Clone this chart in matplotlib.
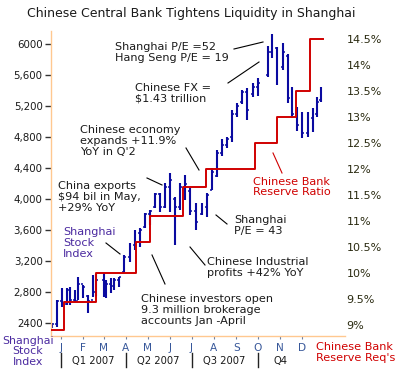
import matplotlib
matplotlib.use("Agg")
import matplotlib.pyplot as plt
import matplotlib.dates as mdates
from matplotlib.lines import Line2D
from matplotlib.transforms import blended_transform_factory
import pandas as pd

# ---------------- data ----------------
bar_dates = ['2007-01-03', '2007-01-09', '2007-01-16', '2007-01-23', '2007-01-28',
             '2007-02-03', '2007-02-08', '2007-02-14', '2007-02-21', '2007-02-28',
             '2007-03-05', '2007-03-15', '2007-03-19', '2007-03-25', '2007-03-30',
             '2007-04-05', '2007-04-12', '2007-04-20', '2007-04-27', '2007-05-04',
             '2007-05-11', '2007-05-18', '2007-05-25', '2007-06-01', '2007-06-08',
             '2007-06-15', '2007-06-22', '2007-06-29', '2007-07-06', '2007-07-13',
             '2007-07-21', '2007-07-29', '2007-08-05', '2007-08-12', '2007-08-19',
             '2007-08-26', '2007-09-02', '2007-09-09', '2007-09-16', '2007-09-23',
             '2007-09-30', '2007-10-08', '2007-10-15', '2007-10-29', '2007-11-03',
             '2007-11-10', '2007-11-19', '2007-11-26', '2007-12-02', '2007-12-09',
             '2007-12-16', '2007-12-23', '2007-12-30', '2008-01-05', '2008-01-10']
highs = [2401, 2698, 2852, 2852, 2865, 2827, 2994, 2891, 2762, 3020,
         3033, 3046, 2956, 2981, 2981, 2994, 3278, 3433, 3601, 3626,
         3820, 3859, 4078, 4078, 4207, 4336, 4026, 4207, 4310, 4142,
         3949, 3949, 4078, 4400, 4633, 4774, 4800, 5149, 5239, 5407,
         5432, 5497, 5561, 5974, 6129, 5961, 6013, 5871, 5445, 5187,
         5123, 5123, 5174, 5316, 5445]
lows = [2336, 2349, 2607, 2633, 2633, 2672, 2698, 2723, 2530, 2736,
        2749, 2736, 2723, 2788, 2827, 2865, 3059, 3188, 3343, 3381,
        3626, 3665, 3884, 3833, 3884, 3833, 3407, 3859, 3988, 3794,
        3601, 3794, 3768, 4117, 4284, 4555, 4658, 4736, 5058, 5226,
        5020, 5316, 5329, 5574, 5819, 5471, 5665, 5239, 5045, 4878,
        4787, 4800, 4865, 5058, 5252]
opens = [2350, 2390, 2680, 2640, 2820, 2700, 2690, 2900, 2750, 2700,
         2800, 2960, 2780, 2900, 2880, 2950, 3060, 3250, 3400, 3560,
         3640, 3800, 3900, 4060, 3900, 4150, 4000, 3900, 4150, 4100,
         3850, 3800, 3900, 4120, 4300, 4600, 4700, 4800, 5100, 5250,
         5380, 5350, 5450, 5600, 5900, 5950, 5700, 5850, 5300, 5100,
         5000, 4850, 5050, 5100, 5280]
closes = [2390, 2680, 2640, 2820, 2700, 2690, 2900, 2860, 2690, 2800,
          2960, 2780, 2900, 2880, 2950, 2990, 3250, 3400, 3560, 3600,
          3800, 3850, 4060, 3900, 4150, 4250, 3900, 4150, 4200, 3850,
          3700, 3900, 4050, 4350, 4600, 4700, 4780, 5100, 5200, 5380,
          5150, 5450, 5500, 5900, 5950, 5600, 5900, 5300, 5100, 4950,
          4850, 5050, 5100, 5250, 5400]

rrr_dates = ['2007-01-03', '2007-01-19', '2007-03-05', '2007-04-29', '2007-05-18',
             '2007-07-03', '2007-08-04', '2007-10-11', '2007-11-11', '2007-12-07',
             '2007-12-26', '2008-01-13']
rrr = [8.9, 9.45, 10.0, 10.6, 11.1, 11.65, 12.0, 12.5, 13.0, 13.5, 14.5, 14.5]

left_ticks = [2400, 2800, 3200, 3600, 4000, 4400, 4800, 5200, 5600, 6000]
left_labels = ['2400', '2,800', '3,200', '3,600', '4,000', '4,400', '4,800',
               '5,200', '5,600', '6000']
right_ticks = [9, 9.5, 10, 10.5, 11, 11.5, 12, 12.5, 13, 13.5, 14, 14.5]
right_labels = ['9%', '9.5%', '10%', '10.5%', '11%', '11.5%', '12%', '12.5%',
                '13%', '13.5%', '14%', '14.5%']
month_dates = ['2007-01-15', '2007-02-15', '2007-03-15', '2007-04-15', '2007-05-15',
               '2007-06-15', '2007-07-15', '2007-08-15', '2007-09-15', '2007-10-15',
               '2007-11-15', '2007-12-15']
month_labels = ['J', 'F', 'M', 'A', 'M', 'J', 'J', 'A', 'S', 'O', 'N', 'D']
quarter_bounds = ['2007-01-15', '2007-04-15', '2007-07-15', '2007-10-15']
quarter_labels = ['Q1 2007', 'Q2 2007', 'Q3 2007', 'Q4']
q4_label_date = '2007-11-15'

# ---------------- figure ----------------
W, H = 401, 371
fig = plt.figure(figsize=(W / 100, H / 100), dpi=100)
fig.patch.set_facecolor('white')

def fx(x):
    return x / W

def fy(y):
    return 1 - y / H

ax_l, ax_r, ax_t, ax_b = 51, 345, 31, 336
ax = fig.add_axes([fx(ax_l), fy(ax_b), (ax_r - ax_l) / W, (ax_b - ax_t) / H])
ax2 = ax.twinx()

BLUE = '#0A0AA0'
RED = '#D00000'
ORANGE = '#FFC890'
PURPLE = '#4B2AA0'
TXT = '#1A1A1A'

d = mdates.date2num(pd.to_datetime(bar_dates))
tick_w = 2.6  # days
ax.vlines(d, lows, highs, color=BLUE, lw=1.5)
ax.hlines(opens, d - tick_w, d, color=BLUE, lw=1.1)
ax.hlines(closes, d, d + tick_w, color=BLUE, lw=1.1)

rd = mdates.date2num(pd.to_datetime(rrr_dates))
ax2.plot(rd, rrr, drawstyle='steps-post', color=RED, lw=1.4)

x0 = mdates.date2num(pd.Timestamp('2007-01-01'))
ax.set_xlim(x0, x0 + 408)
ax.set_ylim(2232, 6168)
ax2.set_ylim(8.788, 14.654)

for s in ['top', 'right']:
    ax.spines[s].set_visible(False)
for s in ax2.spines.values():
    s.set_visible(False)
ax.spines['left'].set_color(ORANGE)
ax.spines['bottom'].set_color(ORANGE)
ax.spines['left'].set_linewidth(1.0)
ax.spines['bottom'].set_linewidth(1.0)

ax.set_yticks(left_ticks)
ax.set_yticklabels(left_labels, fontsize=7.4, color=TXT)
ax.tick_params(axis='y', length=4, width=1, color='#333333', pad=2)

md = mdates.date2num(pd.to_datetime(month_dates))
ax.set_xticks(md)
ax.set_xticklabels(month_labels, fontsize=7.6, color='#38589A')
ax.tick_params(axis='x', length=2.5, width=0.8, color='#7080A0', pad=2.5)

ax2.set_yticks(right_ticks)
ax2.set_yticklabels(right_labels, fontsize=8.0, color='#2A2A10')
ax2.tick_params(axis='y', length=0, pad=1)

# quarter labels and separators
bt = blended_transform_factory(ax.transData, fig.transFigure)
qb = mdates.date2num(pd.to_datetime(quarter_bounds))
for b in qb:
    fig.add_artist(Line2D([b, b], [fy(353), fy(367)], transform=bt, color='#222222', lw=1.0))
q_centers = [(qb[0] + qb[1]) / 2, (qb[1] + qb[2]) / 2, (qb[2] + qb[3]) / 2,
             mdates.date2num(pd.Timestamp(q4_label_date))]
for c, lab in zip(q_centers, quarter_labels):
    fig.text(c, fy(361), lab, transform=bt, ha='center', va='center', fontsize=7.2, color=TXT)

# title
fig.text(fx(27), fy(13), 'Chinese Central Bank Tightens Liquidity in Shanghai',
         ha='left', va='center', fontsize=9.0, color=TXT)

FS = 8.1
LS = 1.12
def note(x, y, s, color=TXT, ha='left', fs=FS):
    fig.text(fx(x), fy(y), s, ha=ha, va='center', fontsize=fs, color=color,
             linespacing=LS)

note(115, 52.5, 'Shanghai P/E =52\nHang Seng P/E = 19')
note(135, 93.5, 'Chinese FX =\n$1.43 trillion')
note(80, 141, "Chinese economy\nexpands +11.9%\nYoY in Q'2")
note(58, 197, 'China exports\n$94 bil in May,\n+29% YoY')
note(63, 243, 'Shanghai\nStock\nIndex', color=PURPLE)
note(234, 225.5, 'Shanghai\nP/E = 43')
note(207, 267.5, 'Chinese Industrial\nprofits +42% YoY')
note(141, 310, 'Chinese investors open\n9.3 million brokerage\naccounts Jan -April')
note(253, 187, 'Chinese Bank\nReserve Ratio', color=RED)
note(28, 351.5, 'Shanghai\nStock\nIndex', color=PURPLE, ha='center', fs=7.9)
note(316, 352.5, "Chinese Bank\nReserve Req's", color=RED, fs=8.1)

def pointer(x1, y1, x2, y2, color='black'):
    fig.add_artist(Line2D([fx(x1), fx(x2)], [fy(y1), fy(y2)], transform=fig.transFigure,
                          color=color, lw=0.8))

pointer(234, 49, 263, 42)
pointer(228, 83, 259, 62)
pointer(186, 148, 199, 170)
pointer(147, 178, 162, 185)
pointer(106, 243, 120, 254)
pointer(216, 215, 227, 224)
pointer(190, 247, 205, 265)
pointer(152, 255, 165, 284)
pointer(273, 153, 282, 173, color=RED)

fig.savefig('out.png', dpi=100)
